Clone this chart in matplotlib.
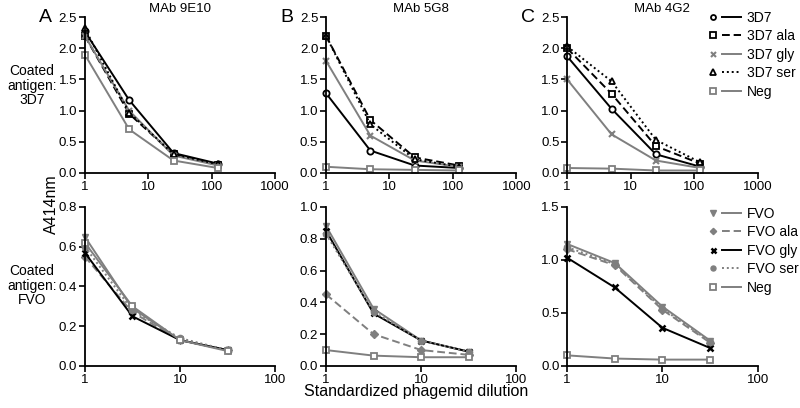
import matplotlib
matplotlib.use("Agg")
import matplotlib.pyplot as plt
from matplotlib.lines import Line2D
from matplotlib.legend_handler import HandlerTuple

plt.rcParams["font.family"] = ["Liberation Sans", "DejaVu Sans"]

# data
x_top = [1, 5, 25, 125]
x_bot = [1, 3.16, 10, 31.6]

top_names = ["3D7", "3D7 ala", "3D7 gly", "3D7 ser", "Neg"]
bot_names = ["FVO", "FVO ala", "FVO gly", "FVO ser", "Neg"]

# coated antigen 3D7
a_3d7 = [2.27, 1.17, 0.32, 0.15]
a_3d7_ala = [2.2, 0.95, 0.30, 0.13]
a_3d7_gly = [2.2, 1.0, 0.28, 0.12]
a_3d7_ser = [2.32, 0.97, 0.30, 0.14]
a_neg = [1.9, 0.70, 0.20, 0.08]

b_3d7 = [1.28, 0.36, 0.12, 0.08]
b_3d7_ala = [2.2, 0.85, 0.25, 0.12]
b_3d7_gly = [1.8, 0.60, 0.20, 0.10]
b_3d7_ser = [2.2, 0.78, 0.22, 0.10]
b_neg = [0.10, 0.06, 0.05, 0.04]

c_3d7 = [1.87, 1.03, 0.30, 0.10]
c_3d7_ala = [2.0, 1.27, 0.43, 0.15]
c_3d7_gly = [1.5, 0.62, 0.20, 0.08]
c_3d7_ser = [2.03, 1.47, 0.53, 0.17]
c_neg = [0.08, 0.07, 0.04, 0.04]

# coated antigen FVO
d_fvo = [0.65, 0.29, 0.13, 0.08]
d_fvo_ala = [0.55, 0.27, 0.13, 0.08]
d_fvo_gly = [0.57, 0.25, 0.13, 0.08]
d_fvo_ser = [0.60, 0.28, 0.14, 0.08]
d_neg = [0.62, 0.30, 0.13, 0.075]

e_fvo = [0.88, 0.36, 0.16, 0.09]
e_fvo_ala = [0.45, 0.20, 0.10, 0.07]
e_fvo_gly = [0.85, 0.33, 0.16, 0.09]
e_fvo_ser = [0.83, 0.34, 0.16, 0.09]
e_neg = [0.10, 0.065, 0.055, 0.055]

f_fvo = [1.15, 0.97, 0.56, 0.24]
f_fvo_ala = [1.10, 0.95, 0.53, 0.22]
f_fvo_gly = [1.02, 0.74, 0.36, 0.17]
f_fvo_ser = [1.12, 0.96, 0.54, 0.23]
f_neg = [0.10, 0.07, 0.06, 0.06]

GRAY = "#7f7f7f"

top_styles = [
    dict(color="black", ls="-", marker="o", mfc="white", ms=4.5, mew=1.3),
    dict(color="black", ls=(0, (4, 2)), marker="s", mfc="white", ms=5, mew=1.3),
    dict(color=GRAY, ls="-", marker="x", ms=4.5, mew=1.5),
    dict(color="black", ls=(0, (1, 1.5)), marker="^", mfc="white", ms=5, mew=1.3),
    dict(color=GRAY, ls="-", marker="s", mfc="white", ms=5, mew=1.3),
]
bot_styles = [
    dict(color=GRAY, ls="-", marker="v", ms=5),
    dict(color=GRAY, ls=(0, (4, 2)), marker="D", ms=4),
    dict(color="black", ls="-", marker="x", ms=4.5, mew=1.8),
    dict(color=GRAY, ls=(0, (1, 1.5)), marker="o", ms=4.5),
    dict(color=GRAY, ls="-", marker="s", mfc="white", ms=5, mew=1.3),
]

top_data = [
    [a_3d7, a_3d7_ala, a_3d7_gly, a_3d7_ser, a_neg],
    [b_3d7, b_3d7_ala, b_3d7_gly, b_3d7_ser, b_neg],
    [c_3d7, c_3d7_ala, c_3d7_gly, c_3d7_ser, c_neg],
]
bot_data = [
    [d_fvo, d_fvo_ala, d_fvo_gly, d_fvo_ser, d_neg],
    [e_fvo, e_fvo_ala, e_fvo_gly, e_fvo_ser, e_neg],
    [f_fvo, f_fvo_ala, f_fvo_gly, f_fvo_ser, f_neg],
]

titles = ["MAb 9E10", "MAb 5G8", "MAb 4G2"]
letters = ["A", "B", "C"]
bot_ylim = [0.8, 1.0, 1.5]
bot_yticks = [[0, 0.2, 0.4, 0.6, 0.8], [0, 0.2, 0.4, 0.6, 0.8, 1.0], [0, 0.5, 1.0, 1.5]]

lefts = [0.106, 0.4075, 0.709]
width = 0.238

fig = plt.figure(figsize=(8, 4.08), dpi=100)


def style_axes(ax):
    for s in ["top", "right"]:
        ax.spines[s].set_visible(False)
    for s in ["left", "bottom"]:
        ax.spines[s].set_linewidth(1.3)
    ax.tick_params(labelsize=9.5, width=1.2, length=4, pad=1.5)
    ax.minorticks_off()


def legend_for(ax, names, styles, ytop):
    handles = []
    for st in styles:
        mk = Line2D([], [], ls="none", color=st["color"], marker=st["marker"],
                    mfc=st.get("mfc", st["color"]), ms=st["ms"] * 0.8,
                    mew=st.get("mew", 1.0))
        ln = Line2D([], [], ls=st["ls"], color=st["color"], lw=1.4)
        handles.append((mk, ln))
    ax.legend(handles, names, handler_map={tuple: HandlerTuple(ndivide=None, pad=0)},
              loc="upper left", bbox_to_anchor=(0.716, ytop), frameon=False,
              fontsize=10, handlelength=2.7, labelspacing=0.32, handletextpad=0.4,
              borderaxespad=0, borderpad=0)


for i in range(3):
    ax = fig.add_axes([lefts[i], 0.576, width, 0.382])
    for vals, st in zip(top_data[i], top_styles):
        ax.plot(x_top, vals, lw=1.4, clip_on=False, **st)
    ax.set_xscale("log")
    ax.set_xlim(1, 1000)
    ax.set_ylim(0, 2.5)
    ax.set_xticks([1, 10, 100, 1000], ["1", "10", "100", "1000"])
    ax.set_yticks([0, 0.5, 1.0, 1.5, 2.0, 2.5], ["0.0", "0.5", "1.0", "1.5", "2.0", "2.5"])
    style_axes(ax)
    ax.set_title(titles[i], fontsize=9.5, pad=4)
    ax.text(-0.17, 1.0, letters[i], transform=ax.transAxes, fontsize=14,
            ha="right", va="center")
    if i == 2:
        legend_for(ax, top_names, top_styles, 1.04)

    ax = fig.add_axes([lefts[i], 0.103, width, 0.39])
    for vals, st in zip(bot_data[i], bot_styles):
        ax.plot(x_bot, vals, lw=1.4, clip_on=False, **st)
    ax.set_xscale("log")
    ax.set_xlim(1, 100)
    ax.set_ylim(0, bot_ylim[i])
    ax.set_xticks([1, 10, 100], ["1", "10", "100"])
    ax.set_yticks(bot_yticks[i], ["%.1f" % t for t in bot_yticks[i]])
    style_axes(ax)
    if i == 2:
        legend_for(ax, bot_names, bot_styles, 1.0)

fig.text(0.04, 0.79, "Coated\nantigen:\n3D7", ha="center", va="center", fontsize=10,
         linespacing=1.05)
fig.text(0.04, 0.30, "Coated\nantigen:\nFVO", ha="center", va="center", fontsize=10,
         linespacing=1.05)
fig.text(0.064, 0.50, "A414nm", rotation=90, ha="center", va="center", fontsize=11.5)
fig.text(0.52, 0.04, "Standardized phagemid dilution", ha="center", va="center",
         fontsize=11.5)

fig.savefig("out.png", dpi=100)
